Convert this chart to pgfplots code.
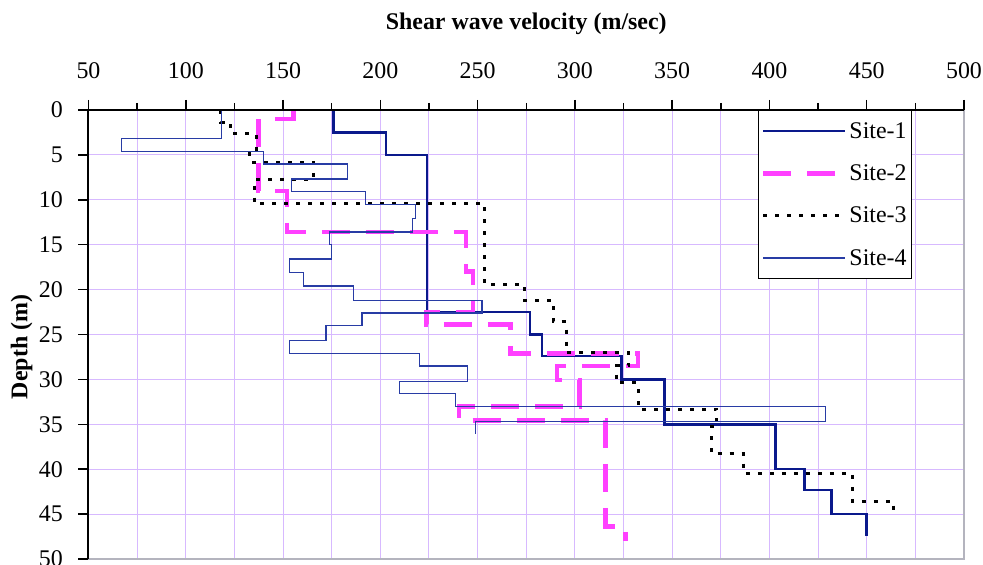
\documentclass[border=0pt]{standalone}
\usepackage{fontspec}
\setmainfont{Liberation Serif}
\usepackage{pgfplots}
\pgfplotsset{compat=1.18}
\definecolor{sone}{RGB}{10,25,140}
\definecolor{stwo}{RGB}{255,64,255}
\definecolor{sfour}{RGB}{40,60,165}
\definecolor{gridc}{RGB}{215,185,255}
\definecolor{framec}{RGB}{180,180,190}
\begin{document}
\begin{tikzpicture}
\pgfplotsset{every axis/.append style={width=875.5bp,height=449bp,scale only axis,
  xmin=50,xmax=500,ymin=0,ymax=50,y dir=reverse,at={(0,0)},anchor=south west}}
\begin{axis}[
  axis line style={draw=framec,line width=1.2bp},
  xtick={50,75,...,500}, ytick={0,5,...,50},
  xticklabels={}, yticklabels={},
  major tick length=0pt,
  grid=major, major grid style={draw=gridc,line width=1bp},
  legend style={at={(0.9406,1)},anchor=north east,draw=black,line width=0.8bp,fill=white,
    font=\fontsize{24}{26}\selectfont,row sep=21bp,inner xsep=3bp,inner ysep=10bp},
  legend cell align=left,
  legend image code/.code={\draw[#1] (0bp,0bp) -- (82bp,0bp);},
]
\addplot[sone,line width=2.5bp] coordinates {(176,0)(176,2.5)(203,2.5)(203,5)(224,5)(224,22.5)(277,22.5)(277,25)(283,25)(283,27.4)(324,27.4)(324,30)(346,30)(346,35)(403,35)(403,40)(418,40)(418,42.3)(432,42.3)(432,45)(450,45)(450,47.4)};
\addlegendentry{Site-1}
\addplot[stwo,line width=4.5bp,dash pattern=on 28bp off 16bp] coordinates {(155.4,0)(155.4,1)(137.5,1)(137.5,9)(152,9)(152,13.6)(244,13.6)(244,18)(247.6,18)(247.6,22.5)(223.6,22.5)(223.6,23.9)(267,23.9)(267,27.1)(332.5,27.1)(332.5,28.5)(290.8,28.5)(290.8,30.05)(302.3,30.05)(302.3,33)(240.4,33)(240.4,34.6)(315.7,34.6)(315.7,46.4)(326,46.4)(326,48)};
\addlegendentry{Site-2}
\addplot[black,line width=3bp,dash pattern=on 4bp off 8bp] coordinates {(118,0)(118,1.35)(123,1.35)(123,2.6)(136.2,2.6)(136.2,4.6)(133,4.6)(133,5.8)(165.6,5.8)(165.6,7.7)(135.1,7.7)(135.1,10.4)(253.5,10.4)(253.5,19.4)(274,19.4)(274,21.2)(289,21.2)(289,23.6)(295.5,23.6)(295.5,27)(327.7,27)(327.7,28.5)(321.4,28.5)(321.4,30.4)(332.5,30.4)(332.5,33.3)(373,33.3)(373,35.3)(370,35.3)(370,38.3)(386.8,38.3)(386.8,40.5)(442.8,40.5)(442.8,43.6)(464,43.6)(464,44.9)};
\addlegendentry{Site-3}
\addplot[sfour,line width=1.3bp] coordinates {(118.3,0)(118.3,3.15)(67,3.15)(67,4.6)(140,4.6)(140,6.0)(183,6.0)(183,7.7)(154.5,7.7)(154.5,9.05)(192.2,9.05)(192.2,10.5)(218,10.5)(218,12.1)(216.5,12.1)(216.5,13.6)(173.9,13.6)(173.9,15)(175,15)(175,16.6)(153.3,16.6)(153.3,18.1)(160.5,18.1)(160.5,19.6)(186.2,19.6)(186.2,21.2)(252.3,21.2)(252.3,22.6)(190.5,22.6)(190.5,24)(172,24)(172,25.7)(153.3,25.7)(153.3,27.1)(220.2,27.1)(220.2,28.5)(244.9,28.5)(244.9,30.2)(209.9,30.2)(209.9,31.6)(238.7,31.6)(238.7,33)(428.9,33)(428.9,34.7)(249,34.7)(249,36.1)};
\addlegendentry{Site-4}
\end{axis}
\begin{axis}[
  axis x line*=top, axis y line*=left,
  axis line style={draw=black,line width=2bp,-},
  xtick={50,100,...,500}, minor xtick={75,125,...,475}, ytick={0,5,...,50},
  tick align=outside, major tick length=10bp, minor tick length=7bp,
  every tick/.style={black,line width=1.5bp},
  /pgf/number format/assume math mode=true,
  xticklabel style={anchor=center,font=\fontsize{24}{26}\selectfont},
  xticklabel shift=29bp,
  yticklabel style={anchor=east,inner sep=0pt,font=\fontsize{24}{26}\selectfont},
  yticklabel shift=15.5bp,
]
\end{axis}
\node[font=\bfseries\fontsize{24}{26}\selectfont] at (437.75bp,535bp) {Shear wave velocity (m/sec)};
\node[font=\bfseries\fontsize{24}{26}\selectfont,rotate=90] at (-66.8bp,212bp) {Depth (m)};
\pgfresetboundingbox
\path (-88.5bp,-6bp) rectangle (894.5bp,559bp);
\end{tikzpicture}
\end{document}
